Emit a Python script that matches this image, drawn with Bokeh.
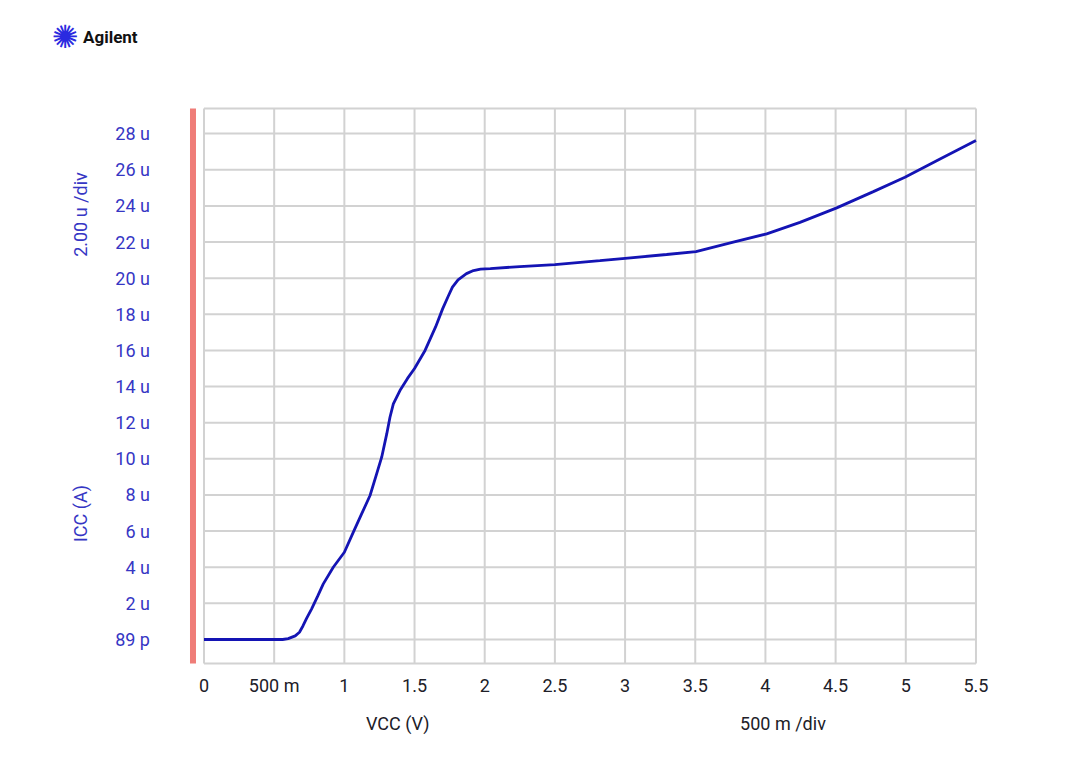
import numpy as np
from bokeh.plotting import figure
from bokeh.models import Range1d
from bokeh.core.properties import value
from bokeh.embed import file_html
from bokeh.resources import INLINE

# ---- data ----
vcc = [0.0, 0.56, 0.6, 0.65, 0.68, 0.705, 0.73, 0.767, 0.81, 0.85, 0.921, 1.0,
       1.064, 1.123, 1.183, 1.23, 1.266, 1.302, 1.325, 1.349, 1.396, 1.45, 1.5,
       1.575, 1.65, 1.7, 1.74, 1.77, 1.81, 1.87, 1.92, 1.97, 2.04, 2.25, 2.5,
       2.821, 3.0, 3.296, 3.505, 3.771, 4.009, 4.246, 4.508, 4.769, 4.994,
       5.244, 5.5]
icc_u = [0.0, 0.0, 0.05, 0.2, 0.4, 0.75, 1.15, 1.7, 2.4, 3.08, 4.0, 4.83,
         5.94, 6.95, 7.97, 9.17, 10.09, 11.38, 12.3, 13.04, 13.78, 14.45, 15.0,
         16.0, 17.3, 18.3, 19.0, 19.5, 19.9, 20.25, 20.42, 20.5, 20.53, 20.64,
         20.75, 20.97, 21.1, 21.31, 21.47, 21.99, 22.45, 23.09, 23.89, 24.79,
         25.58, 26.6, 27.62]

x_ticks = [0, 0.5, 1, 1.5, 2, 2.5, 3, 3.5, 4, 4.5, 5, 5.5]
x_tick_labels = ["0", "500 m", "1", "1.5", "2", "2.5", "3", "3.5", "4", "4.5", "5", "5.5"]
y_ticks = [0, 2, 4, 6, 8, 10, 12, 14, 16, 18, 20, 22, 24, 26, 28]
y_tick_labels = ["89 p", "2 u", "4 u", "6 u", "8 u", "10 u", "12 u", "14 u",
                 "16 u", "18 u", "20 u", "22 u", "24 u", "26 u", "28 u"]

x_title, x_div = "VCC (V)", "500 m /div"
y_title, y_div = "ICC (A)", "2.00 u /div"
brand = "Agilent"
brand_mark = "\u273A"

FONT = value("Roboto")
BLUE_TXT = "#3636c4"
DARK_TXT = "#202028"
GRID = "#d2d2d2"
CURVE = "#1414b4"
RED = "#ef7d78"

# whole canvas is the data frame; grid box spans x 0..5.5
GB, GT = -1.33, 29.39            # grid box bottom / top
BAR_L, BAR_R = -0.0997, -0.057   # red bar

p = figure(width=1071, height=757,
           min_border_left=0, min_border_right=0,
           min_border_top=0, min_border_bottom=0,
           x_range=Range1d(-1.4498, 6.1806), y_range=Range1d(-6.531, 35.368),
           x_axis_location=None, y_axis_location=None,
           output_backend="svg", toolbar_location=None)
p.outline_line_color = None
p.grid.visible = False
p.background_fill_color = "white"
p.border_fill_color = "white"

# red bar at the left
p.quad(left=[BAR_L], right=[BAR_R], bottom=[GB], top=[GT], color=RED, line_color=None)

# grid
p.segment(x0=x_ticks, y0=[GB] * len(x_ticks), x1=x_ticks, y1=[GT] * len(x_ticks),
          line_color=GRID, line_width=2)
p.segment(x0=[0] * len(y_ticks), y0=y_ticks, x1=[5.5] * len(y_ticks), y1=y_ticks,
          line_color=GRID, line_width=2)
p.segment(x0=[0, 0], y0=[GB, GT], x1=[5.5, 5.5], y1=[GB, GT],
          line_color=GRID, line_width=2)

# curve
p.line(vcc, icc_u, line_color=CURVE, line_width=2.8)

# tick labels
p.text(x=[-0.385] * len(y_ticks), y=y_ticks, text=y_tick_labels,
       text_font=FONT, text_font_size="18px", text_color=BLUE_TXT,
       text_align="right", text_baseline="middle")
p.text(x=x_ticks, y=[-2.55] * len(x_ticks), text=x_tick_labels,
       text_font=FONT, text_font_size="18px", text_color=DARK_TXT,
       text_align="center", text_baseline="middle")

# axis titles
p.text(x=[-0.883, -0.883], y=[6.97, 23.52], text=[y_title, y_div],
       angle=np.pi / 2, text_font=FONT, text_font_size="18px",
       text_color=BLUE_TXT, text_align="center", text_baseline="middle")
p.text(x=[1.38, 4.125], y=[-4.65, -4.65], text=[x_title, x_div],
       text_font=FONT, text_font_size="18px", text_color=DARK_TXT,
       text_align="center", text_baseline="middle")

# logo
p.text(x=[-0.990], y=[33.35], text=[brand_mark], text_font=value("DejaVu Sans"),
       text_font_size="32px", text_color="#2a2ae0",
       text_align="center", text_baseline="middle")
p.text(x=[-0.862], y=[33.35], text=[brand], text_font=FONT,
       text_font_size="17px", text_font_style="bold", text_color="#111111",
       text_align="left", text_baseline="middle")

open("out.html", "w").write(file_html(p, INLINE))
